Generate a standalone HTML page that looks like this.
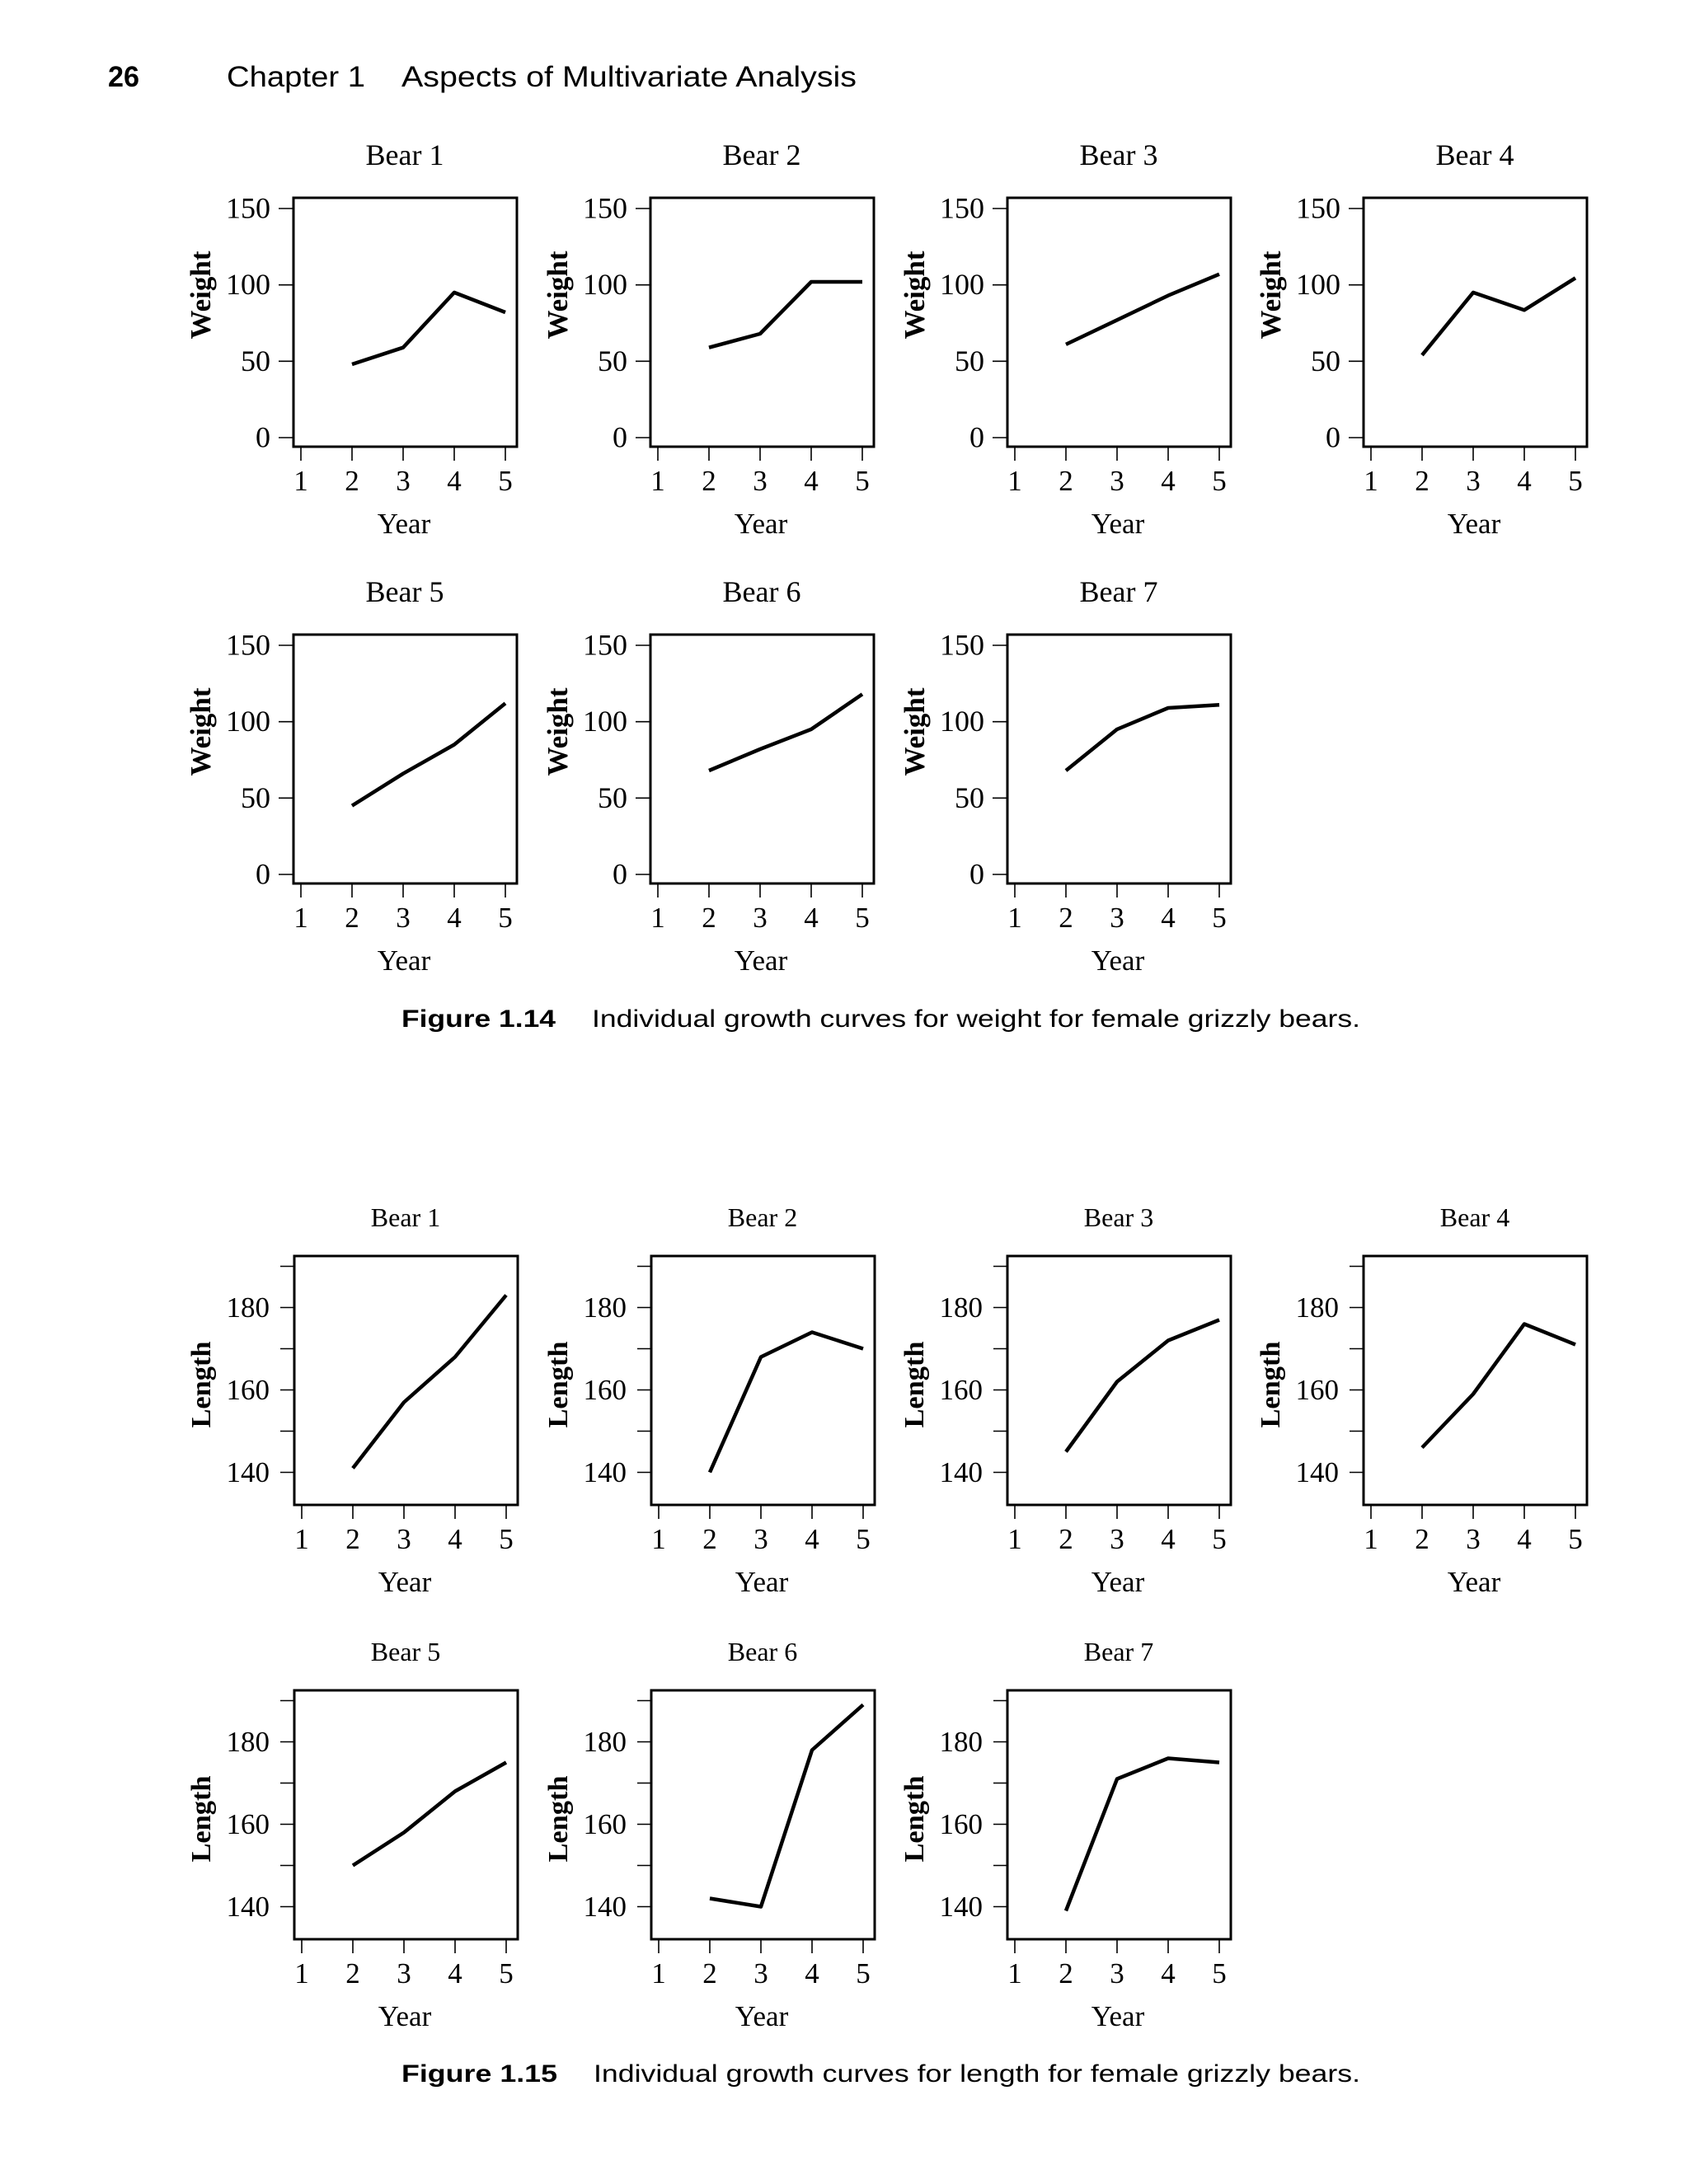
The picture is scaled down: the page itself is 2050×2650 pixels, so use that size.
<!DOCTYPE html>
<html>
<head>
<meta charset="utf-8">
<style>
  html, body { margin:0; padding:0; background:#fff; }
  body { width:2050px; height:2650px; overflow:hidden; }
  svg { display:block; }
  .serif { font-family:"Liberation Serif", "DejaVu Serif", serif; fill:#000; }
  .sans { font-family:"Liberation Sans", "DejaVu Sans", sans-serif; fill:#000; }
  .box { fill:none; stroke:#000; stroke-width:3; }
  .tk { stroke:#000; stroke-width:1.6; }
  .ln { fill:none; stroke:#000; stroke-width:4.5; stroke-linejoin:round; stroke-linecap:butt; }
</style>
</head>
<body>
<svg width="2050" height="2650" viewBox="0 0 2050 2650" xmlns="http://www.w3.org/2000/svg">
  <!-- Header -->
  <text class="sans" x="131" y="105" font-size="35" font-weight="bold" textLength="38" lengthAdjust="spacingAndGlyphs">26</text>
  <text class="sans" x="275" y="105" font-size="35" textLength="168" lengthAdjust="spacingAndGlyphs">Chapter 1</text>
  <text class="sans" x="487" y="105" font-size="35" textLength="552" lengthAdjust="spacingAndGlyphs">Aspects of Multivariate Analysis</text>

  <defs>
    <g id="wframe">
      <rect class="box" x="0" y="0" width="271" height="302"/>
      <line class="tk" x1="-18" y1="13" x2="0" y2="13"/>
      <line class="tk" x1="-18" y1="105.7" x2="0" y2="105.7"/>
      <line class="tk" x1="-18" y1="198.3" x2="0" y2="198.3"/>
      <line class="tk" x1="-18" y1="291" x2="0" y2="291"/>
      <line class="tk" x1="9" y1="302" x2="9" y2="319"/>
      <line class="tk" x1="71" y1="302" x2="71" y2="319"/>
      <line class="tk" x1="133" y1="302" x2="133" y2="319"/>
      <line class="tk" x1="195" y1="302" x2="195" y2="319"/>
      <line class="tk" x1="257" y1="302" x2="257" y2="319"/>
    </g>
    <g id="lframe">
      <rect class="box" x="0" y="0" width="271" height="302"/>
      <line class="tk" x1="-17" y1="12.5" x2="0" y2="12.5"/>
      <line class="tk" x1="-17" y1="62.5" x2="0" y2="62.5"/>
      <line class="tk" x1="-17" y1="112.5" x2="0" y2="112.5"/>
      <line class="tk" x1="-17" y1="162.5" x2="0" y2="162.5"/>
      <line class="tk" x1="-17" y1="212.5" x2="0" y2="212.5"/>
      <line class="tk" x1="-17" y1="262.5" x2="0" y2="262.5"/>
      <line class="tk" x1="9" y1="302" x2="9" y2="319"/>
      <line class="tk" x1="71" y1="302" x2="71" y2="319"/>
      <line class="tk" x1="133" y1="302" x2="133" y2="319"/>
      <line class="tk" x1="195" y1="302" x2="195" y2="319"/>
      <line class="tk" x1="257" y1="302" x2="257" y2="319"/>
    </g>
  </defs>

  <!-- ================= FIGURE 1.14 ================= -->
  <g transform="translate(356,240)">
    <use href="#wframe"/>
    <text class="serif" x="135" y="-40" font-size="36" text-anchor="middle">Bear 1</text>
    <g class="serif" font-size="36" text-anchor="end">
      <text x="-28" y="24.5">150</text><text x="-28" y="117.2">100</text><text x="-28" y="209.8">50</text><text x="-28" y="302.5">0</text>
    </g>
    <g class="serif" font-size="35" text-anchor="middle">
      <text x="9" y="355">1</text><text x="71" y="355">2</text><text x="133" y="355">3</text><text x="195" y="355">4</text><text x="257" y="355">5</text>
      <text x="134" y="407">Year</text>
    </g>
    <text class="serif" font-size="35" font-weight="bold" text-anchor="middle" transform="translate(-101,118) rotate(-90)" textLength="107" lengthAdjust="spacingAndGlyphs">Weight</text>
    <polyline class="ln" points="71,202.0 133,181.7 195,114.9 257,139.0"/>
  </g>
  <g transform="translate(789,240)">
    <use href="#wframe"/>
    <text class="serif" x="135" y="-40" font-size="36" text-anchor="middle">Bear 2</text>
    <g class="serif" font-size="36" text-anchor="end">
      <text x="-28" y="24.5">150</text><text x="-28" y="117.2">100</text><text x="-28" y="209.8">50</text><text x="-28" y="302.5">0</text>
    </g>
    <g class="serif" font-size="35" text-anchor="middle">
      <text x="9" y="355">1</text><text x="71" y="355">2</text><text x="133" y="355">3</text><text x="195" y="355">4</text><text x="257" y="355">5</text>
      <text x="134" y="407">Year</text>
    </g>
    <text class="serif" font-size="35" font-weight="bold" text-anchor="middle" transform="translate(-101,118) rotate(-90)" textLength="107" lengthAdjust="spacingAndGlyphs">Weight</text>
    <polyline class="ln" points="71,181.7 133,165.0 195,102.0 257,102.0"/>
  </g>
  <g transform="translate(1222,240)">
    <use href="#wframe"/>
    <text class="serif" x="135" y="-40" font-size="36" text-anchor="middle">Bear 3</text>
    <g class="serif" font-size="36" text-anchor="end">
      <text x="-28" y="24.5">150</text><text x="-28" y="117.2">100</text><text x="-28" y="209.8">50</text><text x="-28" y="302.5">0</text>
    </g>
    <g class="serif" font-size="35" text-anchor="middle">
      <text x="9" y="355">1</text><text x="71" y="355">2</text><text x="133" y="355">3</text><text x="195" y="355">4</text><text x="257" y="355">5</text>
      <text x="134" y="407">Year</text>
    </g>
    <text class="serif" font-size="35" font-weight="bold" text-anchor="middle" transform="translate(-101,118) rotate(-90)" textLength="107" lengthAdjust="spacingAndGlyphs">Weight</text>
    <polyline class="ln" points="71,177.9 133,148.3 195,118.6 257,92.7"/>
  </g>
  <g transform="translate(1654,240)">
    <use href="#wframe"/>
    <text class="serif" x="135" y="-40" font-size="36" text-anchor="middle">Bear 4</text>
    <g class="serif" font-size="36" text-anchor="end">
      <text x="-28" y="24.5">150</text><text x="-28" y="117.2">100</text><text x="-28" y="209.8">50</text><text x="-28" y="302.5">0</text>
    </g>
    <g class="serif" font-size="35" text-anchor="middle">
      <text x="9" y="355">1</text><text x="71" y="355">2</text><text x="133" y="355">3</text><text x="195" y="355">4</text><text x="257" y="355">5</text>
      <text x="134" y="407">Year</text>
    </g>
    <text class="serif" font-size="35" font-weight="bold" text-anchor="middle" transform="translate(-101,118) rotate(-90)" textLength="107" lengthAdjust="spacingAndGlyphs">Weight</text>
    <polyline class="ln" points="71,190.9 133,114.9 195,136.2 257,97.3"/>
  </g>
  <g transform="translate(356,770)">
    <use href="#wframe"/>
    <text class="serif" x="135" y="-40" font-size="36" text-anchor="middle">Bear 5</text>
    <g class="serif" font-size="36" text-anchor="end">
      <text x="-28" y="24.5">150</text><text x="-28" y="117.2">100</text><text x="-28" y="209.8">50</text><text x="-28" y="302.5">0</text>
    </g>
    <g class="serif" font-size="35" text-anchor="middle">
      <text x="9" y="355">1</text><text x="71" y="355">2</text><text x="133" y="355">3</text><text x="195" y="355">4</text><text x="257" y="355">5</text>
      <text x="134" y="407">Year</text>
    </g>
    <text class="serif" font-size="35" font-weight="bold" text-anchor="middle" transform="translate(-101,118) rotate(-90)" textLength="107" lengthAdjust="spacingAndGlyphs">Weight</text>
    <polyline class="ln" points="71,207.6 133,168.7 195,133.5 257,83.4"/>
  </g>
  <g transform="translate(789,770)">
    <use href="#wframe"/>
    <text class="serif" x="135" y="-40" font-size="36" text-anchor="middle">Bear 6</text>
    <g class="serif" font-size="36" text-anchor="end">
      <text x="-28" y="24.5">150</text><text x="-28" y="117.2">100</text><text x="-28" y="209.8">50</text><text x="-28" y="302.5">0</text>
    </g>
    <g class="serif" font-size="35" text-anchor="middle">
      <text x="9" y="355">1</text><text x="71" y="355">2</text><text x="133" y="355">3</text><text x="195" y="355">4</text><text x="257" y="355">5</text>
      <text x="134" y="407">Year</text>
    </g>
    <text class="serif" font-size="35" font-weight="bold" text-anchor="middle" transform="translate(-101,118) rotate(-90)" textLength="107" lengthAdjust="spacingAndGlyphs">Weight</text>
    <polyline class="ln" points="71,165.0 133,139.0 195,114.9 257,72.3"/>
  </g>
  <g transform="translate(1222,770)">
    <use href="#wframe"/>
    <text class="serif" x="135" y="-40" font-size="36" text-anchor="middle">Bear 7</text>
    <g class="serif" font-size="36" text-anchor="end">
      <text x="-28" y="24.5">150</text><text x="-28" y="117.2">100</text><text x="-28" y="209.8">50</text><text x="-28" y="302.5">0</text>
    </g>
    <g class="serif" font-size="35" text-anchor="middle">
      <text x="9" y="355">1</text><text x="71" y="355">2</text><text x="133" y="355">3</text><text x="195" y="355">4</text><text x="257" y="355">5</text>
      <text x="134" y="407">Year</text>
    </g>
    <text class="serif" font-size="35" font-weight="bold" text-anchor="middle" transform="translate(-101,118) rotate(-90)" textLength="107" lengthAdjust="spacingAndGlyphs">Weight</text>
    <polyline class="ln" points="71,165.0 133,114.9 195,89.0 257,85.3"/>
  </g>

  <!-- Caption 1.14 -->
  <text class="sans" x="487" y="1246" font-size="30" font-weight="bold" textLength="187" lengthAdjust="spacingAndGlyphs">Figure 1.14</text>
  <text class="sans" x="718" y="1246" font-size="30" textLength="932" lengthAdjust="spacingAndGlyphs">Individual growth curves for weight for female grizzly bears.</text>

  <!-- ================= FIGURE 1.15 ================= -->
  <g transform="translate(357,1524)">
    <use href="#lframe"/>
    <text class="serif" x="135" y="-36" font-size="32" text-anchor="middle">Bear 1</text>
    <g class="serif" font-size="35" text-anchor="end">
      <text x="-30" y="74">180</text><text x="-30" y="174">160</text><text x="-30" y="274">140</text>
    </g>
    <g class="serif" font-size="35" text-anchor="middle">
      <text x="9" y="355">1</text><text x="71" y="355">2</text><text x="133" y="355">3</text><text x="195" y="355">4</text><text x="257" y="355">5</text>
      <text x="134" y="407">Year</text>
    </g>
    <text class="serif" font-size="34" font-weight="bold" text-anchor="middle" transform="translate(-102,156) rotate(-90)" textLength="105" lengthAdjust="spacingAndGlyphs">Length</text>
    <polyline class="ln" points="71,257.5 133,177.5 195,122.5 257,47.5"/>
  </g>
  <g transform="translate(790,1524)">
    <use href="#lframe"/>
    <text class="serif" x="135" y="-36" font-size="32" text-anchor="middle">Bear 2</text>
    <g class="serif" font-size="35" text-anchor="end">
      <text x="-30" y="74">180</text><text x="-30" y="174">160</text><text x="-30" y="274">140</text>
    </g>
    <g class="serif" font-size="35" text-anchor="middle">
      <text x="9" y="355">1</text><text x="71" y="355">2</text><text x="133" y="355">3</text><text x="195" y="355">4</text><text x="257" y="355">5</text>
      <text x="134" y="407">Year</text>
    </g>
    <text class="serif" font-size="34" font-weight="bold" text-anchor="middle" transform="translate(-102,156) rotate(-90)" textLength="105" lengthAdjust="spacingAndGlyphs">Length</text>
    <polyline class="ln" points="71,262.5 133,122.5 195,92.5 257,112.5"/>
  </g>
  <g transform="translate(1222,1524)">
    <use href="#lframe"/>
    <text class="serif" x="135" y="-36" font-size="32" text-anchor="middle">Bear 3</text>
    <g class="serif" font-size="35" text-anchor="end">
      <text x="-30" y="74">180</text><text x="-30" y="174">160</text><text x="-30" y="274">140</text>
    </g>
    <g class="serif" font-size="35" text-anchor="middle">
      <text x="9" y="355">1</text><text x="71" y="355">2</text><text x="133" y="355">3</text><text x="195" y="355">4</text><text x="257" y="355">5</text>
      <text x="134" y="407">Year</text>
    </g>
    <text class="serif" font-size="34" font-weight="bold" text-anchor="middle" transform="translate(-102,156) rotate(-90)" textLength="105" lengthAdjust="spacingAndGlyphs">Length</text>
    <polyline class="ln" points="71,237.5 133,152.5 195,102.5 257,77.5"/>
  </g>
  <g transform="translate(1654,1524)">
    <use href="#lframe"/>
    <text class="serif" x="135" y="-36" font-size="32" text-anchor="middle">Bear 4</text>
    <g class="serif" font-size="35" text-anchor="end">
      <text x="-30" y="74">180</text><text x="-30" y="174">160</text><text x="-30" y="274">140</text>
    </g>
    <g class="serif" font-size="35" text-anchor="middle">
      <text x="9" y="355">1</text><text x="71" y="355">2</text><text x="133" y="355">3</text><text x="195" y="355">4</text><text x="257" y="355">5</text>
      <text x="134" y="407">Year</text>
    </g>
    <text class="serif" font-size="34" font-weight="bold" text-anchor="middle" transform="translate(-102,156) rotate(-90)" textLength="105" lengthAdjust="spacingAndGlyphs">Length</text>
    <polyline class="ln" points="71,232.5 133,167.5 195,82.5 257,107.5"/>
  </g>
  <g transform="translate(357,2051)">
    <use href="#lframe"/>
    <text class="serif" x="135" y="-36" font-size="32" text-anchor="middle">Bear 5</text>
    <g class="serif" font-size="35" text-anchor="end">
      <text x="-30" y="74">180</text><text x="-30" y="174">160</text><text x="-30" y="274">140</text>
    </g>
    <g class="serif" font-size="35" text-anchor="middle">
      <text x="9" y="355">1</text><text x="71" y="355">2</text><text x="133" y="355">3</text><text x="195" y="355">4</text><text x="257" y="355">5</text>
      <text x="134" y="407">Year</text>
    </g>
    <text class="serif" font-size="34" font-weight="bold" text-anchor="middle" transform="translate(-102,156) rotate(-90)" textLength="105" lengthAdjust="spacingAndGlyphs">Length</text>
    <polyline class="ln" points="71,212.5 133,172.5 195,122.5 257,87.5"/>
  </g>
  <g transform="translate(790,2051)">
    <use href="#lframe"/>
    <text class="serif" x="135" y="-36" font-size="32" text-anchor="middle">Bear 6</text>
    <g class="serif" font-size="35" text-anchor="end">
      <text x="-30" y="74">180</text><text x="-30" y="174">160</text><text x="-30" y="274">140</text>
    </g>
    <g class="serif" font-size="35" text-anchor="middle">
      <text x="9" y="355">1</text><text x="71" y="355">2</text><text x="133" y="355">3</text><text x="195" y="355">4</text><text x="257" y="355">5</text>
      <text x="134" y="407">Year</text>
    </g>
    <text class="serif" font-size="34" font-weight="bold" text-anchor="middle" transform="translate(-102,156) rotate(-90)" textLength="105" lengthAdjust="spacingAndGlyphs">Length</text>
    <polyline class="ln" points="71,252.5 133,262.5 195,72.5 257,17.5"/>
  </g>
  <g transform="translate(1222,2051)">
    <use href="#lframe"/>
    <text class="serif" x="135" y="-36" font-size="32" text-anchor="middle">Bear 7</text>
    <g class="serif" font-size="35" text-anchor="end">
      <text x="-30" y="74">180</text><text x="-30" y="174">160</text><text x="-30" y="274">140</text>
    </g>
    <g class="serif" font-size="35" text-anchor="middle">
      <text x="9" y="355">1</text><text x="71" y="355">2</text><text x="133" y="355">3</text><text x="195" y="355">4</text><text x="257" y="355">5</text>
      <text x="134" y="407">Year</text>
    </g>
    <text class="serif" font-size="34" font-weight="bold" text-anchor="middle" transform="translate(-102,156) rotate(-90)" textLength="105" lengthAdjust="spacingAndGlyphs">Length</text>
    <polyline class="ln" points="71,267.5 133,107.5 195,82.5 257,87.5"/>
  </g>

  <!-- Caption 1.15 -->
  <text class="sans" x="487" y="2526" font-size="30" font-weight="bold" textLength="189" lengthAdjust="spacingAndGlyphs">Figure 1.15</text>
  <text class="sans" x="720" y="2526" font-size="30" textLength="930" lengthAdjust="spacingAndGlyphs">Individual growth curves for length for female grizzly bears.</text>
</svg>
</body>
</html>
